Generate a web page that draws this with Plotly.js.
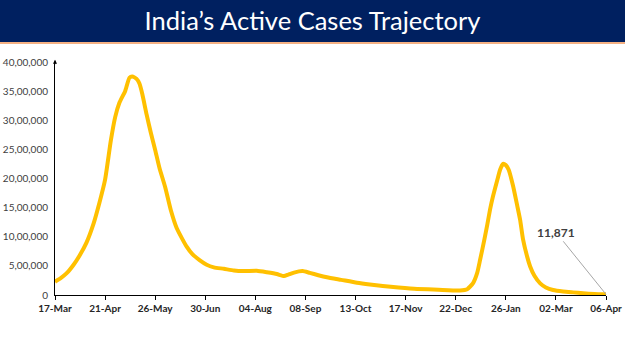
<!DOCTYPE html>
<html>
<head>
<meta charset="utf-8">
<script src="https://cdn.plot.ly/plotly-3.0.1.min.js"></script>
<style>
  html, body { margin: 0; padding: 0; background: #ffffff; }
  #chart { width: 625px; height: 351px; }
</style>
</head>
<body>
<div id="chart"></div>
<script>
const titleText = "India’s Active Cases Trajectory";

const dates = [
  "2021-03-17","2021-03-21","2021-03-25","2021-03-30","2021-04-03","2021-04-08","2021-04-13","2021-04-17",
  "2021-04-21","2021-04-25","2021-04-28","2021-05-01","2021-05-05","2021-05-08","2021-05-10","2021-05-13",
  "2021-05-15","2021-05-17","2021-05-20","2021-05-23","2021-05-26","2021-05-29","2021-06-02","2021-06-06",
  "2021-06-10","2021-06-14","2021-06-17","2021-06-21","2021-06-26","2021-07-01","2021-07-06","2021-07-13",
  "2021-07-20","2021-07-27","2021-08-05","2021-08-12","2021-08-19","2021-08-24","2021-08-27","2021-08-31",
  "2021-09-06","2021-09-11","2021-09-17","2021-09-23","2021-10-03","2021-10-14","2021-10-23","2021-11-01",
  "2021-11-12","2021-11-25","2021-12-10","2021-12-25","2021-12-30","2022-01-03","2022-01-06","2022-01-08",
  "2022-01-11","2022-01-13","2022-01-15","2022-01-17","2022-01-20","2022-01-22","2022-01-24","2022-01-26",
  "2022-01-28","2022-01-31","2022-02-03","2022-02-05","2022-02-07","2022-02-10","2022-02-12","2022-02-15",
  "2022-02-19","2022-02-23","2022-02-28","2022-03-07","2022-03-14","2022-03-21","2022-03-29","2022-04-06"
];

const activeCases = [
  228000, 290000, 370000, 520000, 670000, 900000, 1230000, 1580000,
  1980000, 2650000, 3050000, 3300000, 3500000, 3730000, 3750000, 3710000,
  3630000, 3450000, 3100000, 2780000, 2490000, 2180000, 1850000, 1450000,
  1150000, 960000, 830000, 700000, 600000, 520000, 475000, 450000,
  420000, 410000, 415000, 390000, 360000, 325000, 350000, 385000,
  410000, 380000, 340000, 305000, 260000, 210000, 180000, 155000,
  130000, 105000, 90000, 78000, 100000, 200000, 380000, 600000,
  950000, 1200000, 1470000, 1690000, 1970000, 2150000, 2250000, 2230000,
  2150000, 1880000, 1530000, 1290000, 960000, 650000, 490000, 330000,
  200000, 130000, 86000, 60000, 45000, 30000, 18000, 11871
];

const xTickVals = ["2021-03-17","2021-04-21","2021-05-26","2021-06-30","2021-08-04","2021-09-08",
                   "2021-10-13","2021-11-17","2021-12-22","2022-01-26","2022-03-02","2022-04-06"];
const xTickText = ["17-Mar","21-Apr","26-May","30-Jun","04-Aug","08-Sep",
                   "13-Oct","17-Nov","22-Dec","26-Jan","02-Mar","06-Apr"];

const yTickVals = [0, 500000, 1000000, 1500000, 2000000, 2500000, 3000000, 3500000, 4000000];
const yTickText = ["0","5,00,000","10,00,000","15,00,000","20,00,000","25,00,000","30,00,000","35,00,000","40,00,000"];

const lastLabel = "11,871";

const trace = {
  x: dates,
  y: activeCases,
  type: "scatter",
  mode: "lines",
  line: { color: "#FFC000", width: 4, shape: "spline", smoothing: 0.5 },
  hoverinfo: "skip"
};

const font = "Lato, 'Open Sans', 'DejaVu Sans', sans-serif";

const layout = {
  width: 625,
  height: 351,
  margin: { l: 55, r: 19, t: 62, b: 56, pad: 0 },
  paper_bgcolor: "#ffffff",
  plot_bgcolor: "#ffffff",
  showlegend: false,
  font: { family: font, color: "#404040" },
  title: {
    text: titleText,
    x: 0.5, xref: "container", xanchor: "center",
    y: 1 - 21 / 351, yref: "container", yanchor: "middle",
    font: { family: font, size: 25.5, color: "#ffffff" }
  },
  xaxis: {
    type: "date",
    range: ["2021-03-17", "2022-04-06"],
    tickmode: "array",
    tickvals: xTickVals,
    ticktext: xTickText,
    showgrid: false,
    zeroline: false,
    showline: true,
    linecolor: "#000000",
    linewidth: 1,
    ticks: "outside",
    ticklen: 4,
    tickcolor: "#000000",
    tickfont: { family: font, size: 10, color: "#262626", weight: "bold" },
    fixedrange: true
  },
  yaxis: {
    range: [0, 4000000],
    tickmode: "array",
    tickvals: yTickVals,
    ticktext: yTickText,
    showgrid: false,
    zeroline: false,
    showline: true,
    linecolor: "#000000",
    linewidth: 1,
    ticks: "",
    ticklabelstandoff: 4,
    tickfont: { family: font, size: 10, color: "#404040" },
    fixedrange: true
  },
  shapes: [
    { type: "rect", xref: "paper", yref: "paper", x0: -0.2, x1: 1.2, y0: (295 - 42) / 233, y1: 1.4,
      fillcolor: "#002060", line: { width: 0 }, layer: "above" },
    { type: "rect", xref: "paper", yref: "paper", x0: -0.2, x1: 1.2, y0: (295 - 44) / 233, y1: (295 - 42) / 233,
      fillcolor: "#F4B183", line: { width: 0 }, layer: "above" }
  ],
  annotations: [
    {
      x: dates[dates.length - 1], y: activeCases[activeCases.length - 1],
      xref: "x", yref: "y",
      text: "<b>" + lastLabel + "</b>",
      showarrow: true, arrowhead: 0, arrowwidth: 1, arrowcolor: "#A6A6A6",
      ax: -50, ay: -62, standoff: 0,
      font: { family: font, size: 12, color: "#404040" }
    },
    {
      x: 0, y: 1.01, xref: "paper", yref: "paper",
      text: "", showarrow: true, arrowhead: 2, arrowsize: 0.8, arrowwidth: 1,
      arrowcolor: "#000000", ax: 0, ay: 6, standoff: 0
    }
  ]
};

Plotly.newPlot("chart", [trace], layout, { displayModeBar: false, staticPlot: true });
</script>
</body>
</html>
